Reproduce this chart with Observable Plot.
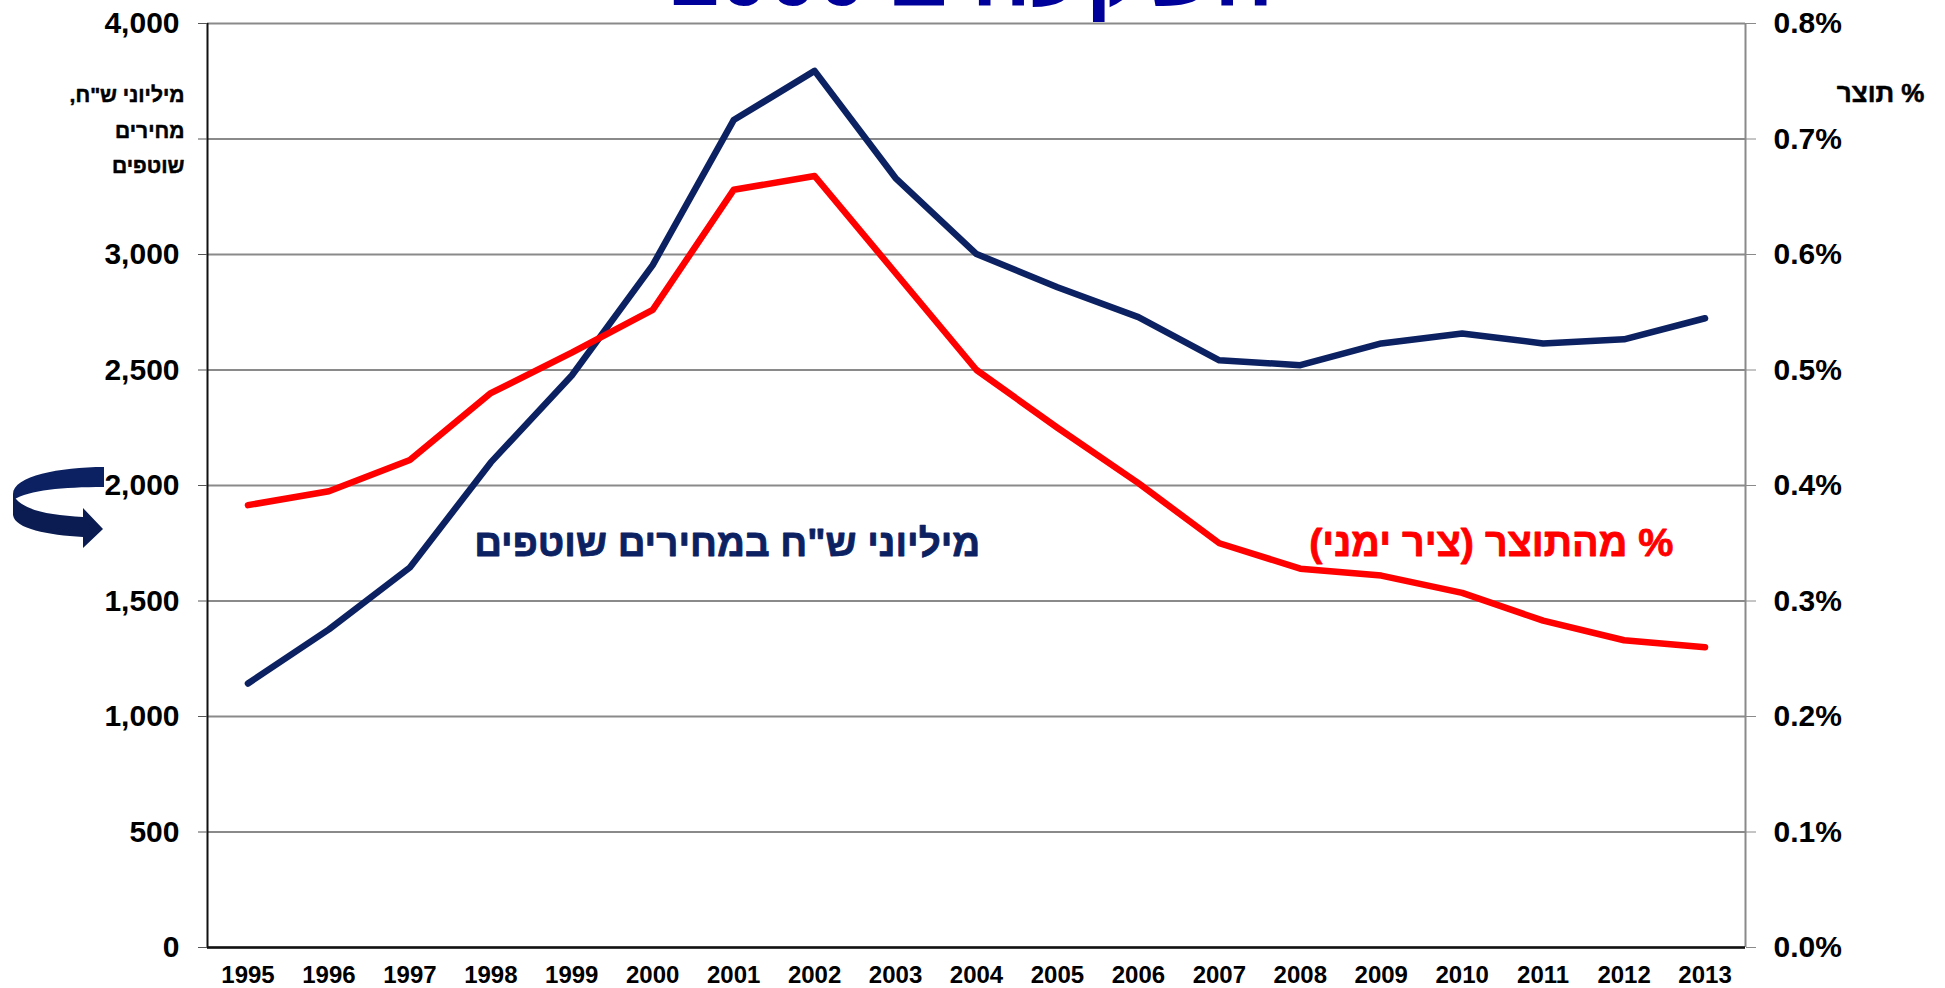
<!DOCTYPE html>
<html>
<head>
<meta charset="utf-8">
<script src="https://cdn.jsdelivr.net/npm/d3@7"></script>
<script src="https://cdn.jsdelivr.net/npm/@observablehq/plot@0.6"></script>
<style>
  html, body { margin: 0; padding: 0; background: #fff; overflow: hidden; }
  #chart { position: relative; width: 1945px; height: 988px; }
</style>
</head>
<body>
<div id="chart"></div>
<script>
// ---- data ----
const years = [1995, 1996, 1997, 1998, 1999, 2000, 2001, 2002, 2003, 2004, 2005, 2006, 2007, 2008, 2009, 2010, 2011, 2012, 2013];
const millionsNIS = [1143, 1377, 1645, 2100, 2476, 2954, 3582, 3795, 3331, 3002, 2858, 2729, 2542, 2521, 2615, 2658, 2615, 2633, 2724];
const pctOfGDP = [0.383, 0.395, 0.422, 0.480, 0.515, 0.552, 0.656, 0.668, 0.584, 0.500, 0.450, 0.402, 0.350, 0.328, 0.322, 0.307, 0.283, 0.266, 0.260];
const leftTicks = [0, 500, 1000, 1500, 2000, 2500, 3000, 3500, 4000];
const leftUnlabeled = [3500];  // tick drawn, label hidden (axis title sits there)
const rightMax = 0.8;   // right axis: 0.0% .. 0.8%
const leftMax = 4000;   // left axis: 0 .. 4,000
const leftAxisLabel = ["מיליוני ש\"ח,", "מחירים", "שוטפים"];
const rightAxisLabel = "% תוצר";
const seriesLabels = ["מיליוני ש\"ח במחירים שוטפים", "% מהתוצר (ציר ימני)"];
const titleText = "השקעה ב 2000";

const NAVY = "#0b2161";
const RED = "#ff0000";
const GRID = "#8a8a8a";
const FONT = "'Liberation Sans', Arial, Helvetica, sans-serif";
const HEB = "'Liberation Sans', 'DejaVu Sans', Arial, sans-serif";
const RLE = "\u202B", PDF = "\u202C";
const ratio = leftMax / rightMax;

const data = years.map((y, i) => ({year: y, nis: millionsNIS[i], pct: pctOfGDP[i]}));

const plot = Plot.plot({
  width: 1945,
  height: 988,
  marginLeft: 207,
  marginRight: 200,
  marginTop: 23,
  marginBottom: 41,
  style: {fontFamily: FONT, fontWeight: "bold", background: "#fff", overflow: "visible", color: "#000"},
  x: {type: "linear", domain: [years[0] - 0.5, years[years.length - 1] + 0.5]},
  y: {domain: [0, leftMax]},
  marks: [
    Plot.gridY(leftTicks, {stroke: GRID, strokeOpacity: 1, strokeWidth: 2}),
    Plot.ruleX([years[years.length - 1] + 0.5], {stroke: GRID, strokeWidth: 2}),
    Plot.ruleX([years[0] - 0.5], {stroke: "#111", strokeWidth: 2}),
    Plot.ruleY([0], {stroke: "#111", strokeWidth: 2.5}),
    Plot.axisY(leftTicks, {anchor: "left", tickFormat: d => leftUnlabeled.includes(d) ? "" : d3.format(",")(d), fontSize: 30, tickSize: 9, tickPadding: 19, label: null, stroke: "#555", fill: "#000"}),
    Plot.axisY(leftTicks, {anchor: "right", tickFormat: d => (d / ratio).toFixed(1) + "%", fontSize: 30, tickSize: 10, tickPadding: 18, label: null, stroke: GRID, fill: "#000"}),
    Plot.axisX(years, {anchor: "bottom", tickSize: 0, tickPadding: 18, fontSize: 24, tickFormat: d => String(d), label: null, fill: "#000"}),
    Plot.lineY(data, {x: "year", y: "nis", stroke: NAVY, strokeWidth: 6.5, strokeLinecap: "round", strokeLinejoin: "round"}),
    Plot.lineY(data, {x: "year", y: d => d.pct * ratio, stroke: RED, strokeWidth: 6.5, strokeLinecap: "round", strokeLinejoin: "round"}),
    Plot.text([seriesLabels[0]], {x: 2000.92, y: 1750, text: d => RLE + d + PDF, fill: NAVY, stroke: NAVY, strokeWidth: 0.8, fontFamily: HEB, fontSize: 38.5, fontWeight: "bold", textAnchor: "middle"}),
    Plot.text([seriesLabels[1]], {x: 2010.36, y: 1750, text: d => RLE + d + PDF, fill: RED, stroke: RED, strokeWidth: 0.8, fontFamily: HEB, fontSize: 39.5, fontWeight: "bold", textAnchor: "middle"}),
    Plot.text([leftAxisLabel.map(s => RLE + s + PDF).join("\n")], {frameAnchor: "top-left", text: d => d, dx: -23, dy: 53, textAnchor: "end", lineAnchor: "top", lineHeight: 1.7, fontFamily: HEB, fontSize: 21, fontWeight: "bold", fill: "#000", stroke: "#000", strokeWidth: 0.5}),
    Plot.text([RLE + rightAxisLabel + PDF], {frameAnchor: "top-right", text: d => d, dx: 179, dy: 60, textAnchor: "end", lineAnchor: "top", fontFamily: HEB, fontSize: 26, fontWeight: "bold", fill: "#000", stroke: "#000", strokeWidth: 0.5})
  ]
});

document.getElementById("chart").appendChild(plot);

// decorative curved arrow (left of the 2,000 tick) and the clipped title
const svg = d3.select(plot);
const g = svg.append("g").attr("fill", NAVY);
g.append("path").attr("d", "M104,467 C60,467 13,476 13,494 L13,500 C30,490 62,487 104,487 Z");
g.append("path").attr("d", "M13,494 L13,515 C15,529 48,535 83,537 L83,548 L103,529 L83,508 L83,517 C48,515 20,510 13,494 Z").attr("fill", "#0a1c52");
svg.append("text")
  .attr("x", 972).attr("y", 5)
  .attr("text-anchor", "middle")
  .attr("direction", "rtl")
  .attr("font-size", 88).attr("font-weight", "bold")
  .attr("font-family", HEB)
  .attr("fill", "#00009a")
  .text(titleText);
</script>
</body>
</html>
